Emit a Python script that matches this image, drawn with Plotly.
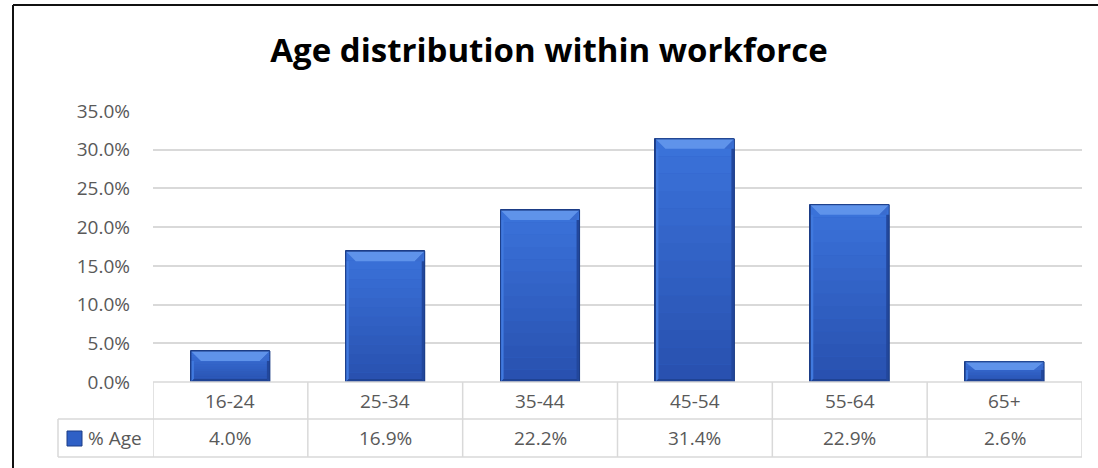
import plotly.graph_objects as go

# Age groups and their share of the workforce (%)
categories = ["16-24", "25-34", "35-44", "45-54", "55-64", "65+"]
shares = [4.0, 16.9, 22.2, 31.4, 22.9, 2.6]
series_name = "% Age"
y_ticks = [0, 5, 10, 15, 20, 25, 30, 35]
title_text = "Age distribution within workforce"

# Figure geometry (pixels)
FIG_W, FIG_H = 1098, 468
PLOT_L, PLOT_R, PLOT_T, PLOT_B = 153, 1082, 111, 382
ROW1_B, ROW2_B = 419, 457
KEY_L = 58
Y_MAX = 35
BAR_W = 0.51

PW = PLOT_R - PLOT_L
PH = PLOT_B - PLOT_T
n = len(categories)
xs = list(range(n))


def px_x(p):
    return (p - PLOT_L) / PW


def px_y(q):
    return (PLOT_B - q) / PH


def mix(c0, c1, t):
    a = [int(c0[i:i + 2], 16) for i in (1, 3, 5)]
    b = [int(c1[i:i + 2], 16) for i in (1, 3, 5)]
    return "#" + "".join(f"{round(u + (w - u) * t):02x}" for u, w in zip(a, b))


GRID = "#d9d9d9"
TEXT = "#595959"
FONT = "Open Sans"
FS = 19
BAR_BOTTOM = "#2850ae"
BAR_TOP = "#3b73db"

fig = go.Figure()
fig.add_trace(go.Bar(
    x=xs, y=shares, width=BAR_W, name=series_name,
    marker=dict(color="#3062c8", line=dict(color="#1c3d86", width=1)),
    showlegend=False, hoverinfo="skip",
))

shapes = []

# vertical shading and bevel facets on every bar
ux = n / PW          # x units per pixel
uy = Y_MAX / PH      # y units per pixel
bands = 14
for x, v in zip(xs, shares):
    x0, x1 = x - BAR_W / 2, x + BAR_W / 2
    for k in range(bands):
        shapes.append(dict(type="rect", xref="x", yref="y",
                           x0=x0, x1=x1, y0=v * k / bands, y1=v * (k + 1) / bands,
                           fillcolor=mix(BAR_BOTTOM, BAR_TOP, (k + 0.5) / bands),
                           line=dict(width=0), layer="above"))
    bt = min(10 * uy, v * 0.4)
    bs = 10 * ux
    side = 3 * ux
    edge = min(3 * uy, v * 0.15)
    facets = [
        ([(x0, 0), (x0, v - bt), (x0 + side, v - bt), (x0 + side, edge)], "#4079de"),
        ([(x1, 0), (x1, v - bt), (x1 - side, v - bt), (x1 - side, edge)], "#22479c"),
        ([(x0, 0), (x1, 0), (x1 - side, edge), (x0 + side, edge)], "#1f4394"),
        ([(x0, v), (x1, v), (x1 - bs, v - bt), (x0 + bs, v - bt)], "#5f93ea"),
        ([(x1, v), (x1 - bs, v - bt), (x1 - side, v - bt)], "#3a6ccf"),
    ]
    for pts, col in facets:
        path = "M " + " L ".join(f"{px},{py}" for px, py in pts) + " Z"
        shapes.append(dict(type="path", xref="x", yref="y", path=path,
                           fillcolor=col, line=dict(width=0), layer="above"))
    shapes.append(dict(type="rect", xref="x", yref="y", x0=x0, x1=x1, y0=0, y1=v,
                       line=dict(color="#1c3d86", width=1), layer="above"))

# data table grid below the plot
line = dict(color=GRID, width=1.5)
shapes.append(dict(type="line", xref="paper", yref="paper",
                   x0=0, x1=1, y0=0, y1=0, line=line))
for q in (ROW1_B, ROW2_B):
    shapes.append(dict(type="line", xref="paper", yref="paper",
                       x0=px_x(KEY_L), x1=1, y0=px_y(q), y1=px_y(q), line=line))
shapes.append(dict(type="line", xref="paper", yref="paper",
                   x0=px_x(KEY_L), x1=px_x(KEY_L), y0=px_y(ROW1_B), y1=px_y(ROW2_B),
                   line=line))
for i in range(n + 1):
    shapes.append(dict(type="line", xref="x", yref="paper",
                       x0=i - 0.5, x1=i - 0.5, y0=0, y1=px_y(ROW2_B), line=line))

# legend key swatch
shapes.append(dict(type="rect", xref="paper", yref="paper",
                   x0=px_x(67), x1=px_x(82), y0=px_y(431), y1=px_y(446),
                   fillcolor="#2f60c6", line=dict(color="#1c3d86", width=1)))

# outer chart border: only the left and top edges fall inside the page
border = dict(color="#111111", width=2)
shapes.append(dict(type="line", xref="paper", yref="paper",
                   x0=px_x(13), x1=px_x(13), y0=px_y(5), y1=px_y(FIG_H + 5),
                   line=border))
shapes.append(dict(type="line", xref="paper", yref="paper",
                   x0=px_x(13), x1=px_x(FIG_W + 5), y0=px_y(5), y1=px_y(5),
                   line=border))

annotations = []
row1_c = (PLOT_B + ROW1_B) / 2
row2_c = (ROW1_B + ROW2_B) / 2
cell_font = dict(family=FONT, size=FS, color=TEXT)
for x, cat, v in zip(xs, categories, shares):
    annotations.append(dict(x=x, y=px_y(row1_c), xref="x", yref="paper",
                            xanchor="center", yanchor="middle",
                            text=cat, showarrow=False, font=cell_font))
    annotations.append(dict(x=x, y=px_y(row2_c), xref="x", yref="paper",
                            xanchor="center", yanchor="middle",
                            text=f"{v:.1f}%", showarrow=False, font=cell_font))
annotations.append(dict(x=px_x(86), y=px_y(row2_c), xref="paper", yref="paper",
                        text=series_name, showarrow=False, xanchor="left",
                        yanchor="middle", font=cell_font))

fig.update_layout(
    width=FIG_W, height=FIG_H,
    margin=dict(l=PLOT_L, r=FIG_W - PLOT_R, t=PLOT_T, b=FIG_H - PLOT_B),
    paper_bgcolor="white", plot_bgcolor="white",
    title=dict(text=f"<b>{title_text}</b>", x=0.5, xref="container",
               y=1 - 50 / FIG_H, yref="container", yanchor="middle",
               font=dict(family=FONT, size=33, color="#000000")),
    xaxis=dict(range=[-0.5, n - 0.5], showticklabels=False, showgrid=False,
               zeroline=False, showline=False, fixedrange=True),
    yaxis=dict(range=[0, Y_MAX], tickvals=y_ticks,
               ticktext=[f"{t:.1f}%" for t in y_ticks],
               showgrid=True, gridcolor=GRID, gridwidth=1.5, zeroline=False,
               showline=False, ticklabelstandoff=22,
               tickfont=dict(family=FONT, size=FS, color=TEXT)),
    shapes=shapes, annotations=annotations, bargap=0,
)

fig.write_html("out.html")
